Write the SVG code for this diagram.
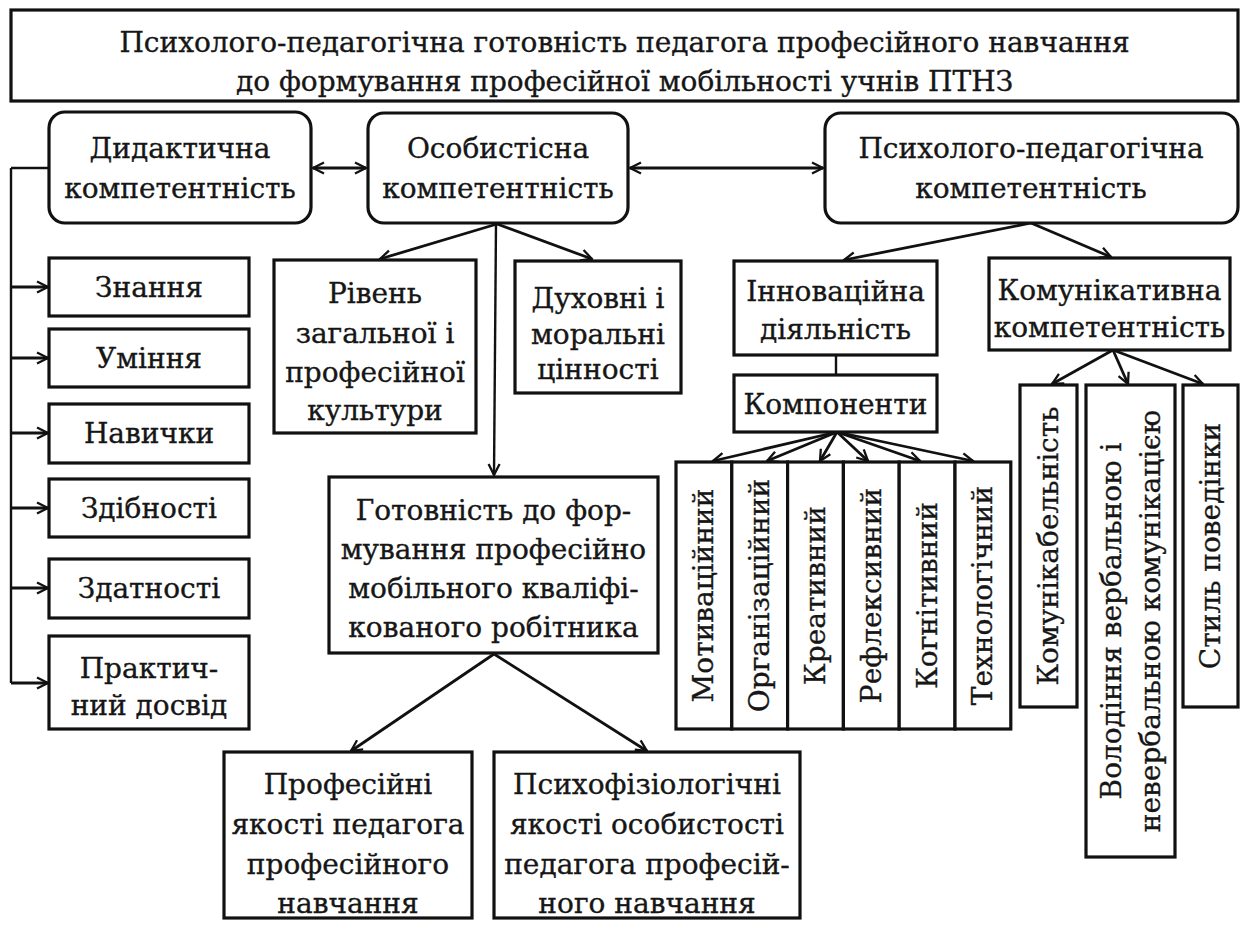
<svg xmlns="http://www.w3.org/2000/svg" width="1243" height="925" viewBox="0 0 1243 925">
<defs>
<style>
.b{fill:#fff;stroke:#111;stroke-width:3.2}
.t{font-family:"DejaVu Serif","Liberation Serif",serif;font-size:28px;fill:#161616;stroke:#161616;stroke-width:0.35;text-anchor:middle;dominant-baseline:central}
.l{stroke:#111;stroke-width:2.4;fill:none}
.a{stroke:#111;stroke-width:2.8;fill:none;marker-end:url(#ah)}
.d{stroke:#111;stroke-width:2.8;fill:none;marker-start:url(#ah);marker-end:url(#ah)}
</style>
<marker id="ah" viewBox="0 0 14 14" refX="12.5" refY="7" markerWidth="14" markerHeight="14" markerUnits="userSpaceOnUse" orient="auto-start-reverse">
<path d="M1.5,1.5 L12.5,7 L1.5,12.5" fill="none" stroke="#111" stroke-width="2.3"/>
</marker>
</defs>
<rect width="1243" height="925" fill="#fff"/>

<g id="connectors">
<path class="l" d="M11,168 V683 M11,168 H49"/>
<path class="a" d="M11,287 H48"/>
<path class="a" d="M11,358 H48"/>
<path class="a" d="M11,433 H48"/>
<path class="a" d="M11,508 H48"/>
<path class="a" d="M11,588 H48"/>
<path class="a" d="M11,683 H48"/>
<path class="d" d="M313,168 H366"/>
<path class="d" d="M630,168 H823"/>
<path class="a" d="M497,224 L380,259"/>
<path class="a" d="M497,224 L592,259"/>
<path class="l" d="M496,224 L494,475" style="marker-end:url(#ah)"/>
<path class="a" d="M494,654 L351,751"/>
<path class="a" d="M494,654 L647,751"/>
<path class="a" d="M1031,223 L844,260"/>
<path class="a" d="M1031,223 L1111,257"/>
<path class="l" d="M836,355 V375"/>
<path class="a" d="M837,432 L713,461"/>
<path class="a" d="M837,432 L767,461"/>
<path class="a" d="M837,432 L820,461"/>
<path class="a" d="M837,432 L868,461"/>
<path class="a" d="M837,432 L920,461"/>
<path class="a" d="M837,432 L973,461"/>
<path class="a" d="M1113,350 L1052,384"/>
<path class="a" d="M1113,350 L1128,384"/>
<path class="a" d="M1113,350 L1203,384"/>
</g>

<g id="title">
<rect class="b" x="11" y="10" width="1227" height="91"/>
<text class="t" x="624.5" y="42">Психолого-педагогічна готовність педагога професійного навчання</text>
<text class="t" x="624.5" y="81">до формування професійної мобільності учнів ПТНЗ</text>
</g>

<g id="didaktychna">
<rect class="b" x="49" y="112" width="262" height="111" rx="16"/>
<text class="t" x="180" y="148">Дидактична</text>
<text class="t" x="180" y="188">компетентність</text>
</g>

<g id="osobystisna">
<rect class="b" x="368" y="113" width="260" height="110" rx="16"/>
<text class="t" x="498" y="148">Особистісна</text>
<text class="t" x="498" y="188">компетентність</text>
</g>

<g id="psykholoho">
<rect class="b" x="825" y="113" width="413" height="110" rx="16"/>
<text class="t" x="1031" y="148">Психолого-педагогічна</text>
<text class="t" x="1031" y="188">компетентність</text>
</g>

<g id="znannia"><rect class="b" x="49" y="258" width="200" height="58"/><text class="t" x="149" y="287">Знання</text></g>
<g id="uminnia"><rect class="b" x="49" y="329" width="200" height="58"/><text class="t" x="149" y="358">Уміння</text></g>
<g id="navychky"><rect class="b" x="49" y="404" width="200" height="59"/><text class="t" x="149" y="433">Навички</text></g>
<g id="zdibnosti"><rect class="b" x="49" y="479" width="200" height="58"/><text class="t" x="149" y="508">Здібності</text></g>
<g id="zdatnosti"><rect class="b" x="49" y="559" width="200" height="59"/><text class="t" x="149" y="588">Здатності</text></g>
<g id="praktychnyi"><rect class="b" x="49" y="636" width="200" height="93"/><text class="t" x="149" y="668">Практич-</text><text class="t" x="149" y="705">ний досвід</text></g>

<g id="riven">
<rect class="b" x="274" y="260" width="202" height="173"/>
<text class="t" x="375" y="293">Рівень</text>
<text class="t" x="375" y="333">загальної і</text>
<text class="t" x="375" y="372">професійної</text>
<text class="t" x="375" y="410">культури</text>
</g>

<g id="dukhovni">
<rect class="b" x="515" y="261" width="166" height="132"/>
<text class="t" x="598" y="298">Духовні і</text>
<text class="t" x="598" y="334">моральні</text>
<text class="t" x="598" y="369">цінності</text>
</g>

<g id="hotovnist">
<rect class="b" x="329" y="477" width="329" height="176"/>
<text class="t" x="493.5" y="510">Готовність до фор-</text>
<text class="t" x="493.5" y="549">мування професійно</text>
<text class="t" x="493.5" y="588">мобільного кваліфі-</text>
<text class="t" x="493.5" y="627">кованого робітника</text>
</g>

<g id="profesiini">
<rect class="b" x="224" y="752" width="248" height="166"/>
<text class="t" x="348" y="784">Професійні</text>
<text class="t" x="348" y="824">якості педагога</text>
<text class="t" x="348" y="864">професійного</text>
<text class="t" x="348" y="903">навчання</text>
</g>

<g id="psykhofiziolohichni">
<rect class="b" x="494" y="752" width="306" height="166"/>
<text class="t" x="647" y="784">Психофізіологічні</text>
<text class="t" x="647" y="824">якості особистості</text>
<text class="t" x="647" y="864">педагога професій-</text>
<text class="t" x="647" y="903">ного навчання</text>
</g>

<g id="innovatsiina">
<rect class="b" x="734" y="261" width="203" height="94"/>
<text class="t" x="835.5" y="291">Інноваційна</text>
<text class="t" x="835.5" y="329">діяльність</text>
</g>

<g id="komunikatyvna">
<rect class="b" x="989" y="258" width="241" height="92"/>
<text class="t" x="1109.5" y="290">Комунікативна</text>
<text class="t" x="1109.5" y="327">компетентність</text>
</g>

<g id="komponenty">
<rect class="b" x="734" y="375" width="203" height="57"/>
<text class="t" x="835.5" y="404">Компоненти</text>
</g>

<g id="motyvatsiinyi"><rect class="b" x="676" y="462" width="55.8" height="267"/><text class="t" transform="translate(703.9,595.5) rotate(-90)">Мотиваційний</text></g>
<g id="orhanizatsiinyi"><rect class="b" x="731.8" y="462" width="55.8" height="267"/><text class="t" transform="translate(759.7,595.5) rotate(-90)">Організаційний</text></g>
<g id="kreatyvnyi"><rect class="b" x="787.6" y="462" width="55.8" height="267"/><text class="t" transform="translate(815.5,595.5) rotate(-90)">Креативний</text></g>
<g id="refleksyvnyi"><rect class="b" x="843.4" y="462" width="55.8" height="267"/><text class="t" transform="translate(871.3,595.5) rotate(-90)">Рефлексивний</text></g>
<g id="kohnityvnyi"><rect class="b" x="899.2" y="462" width="55.8" height="267"/><text class="t" transform="translate(927.1,595.5) rotate(-90)">Когнітивний</text></g>
<g id="tekhnolohichnyi"><rect class="b" x="955" y="462" width="55.8" height="267"/><text class="t" transform="translate(982.9,595.5) rotate(-90)">Технологічний</text></g>

<g id="komunikabelnist"><rect class="b" x="1020" y="385" width="57" height="322"/><text class="t" transform="translate(1048.5,546) rotate(-90)">Комунікабельність</text></g>
<g id="volodinnia"><rect class="b" x="1086" y="385" width="89" height="472"/><text class="t" transform="translate(1111,621) rotate(-90)">Володіння вербальною і</text><text class="t" transform="translate(1150,621) rotate(-90)">невербальною комунікацією</text></g>
<g id="styl"><rect class="b" x="1183" y="385" width="55" height="322"/><text class="t" transform="translate(1210.5,546) rotate(-90)">Стиль поведінки</text></g>
</svg>
